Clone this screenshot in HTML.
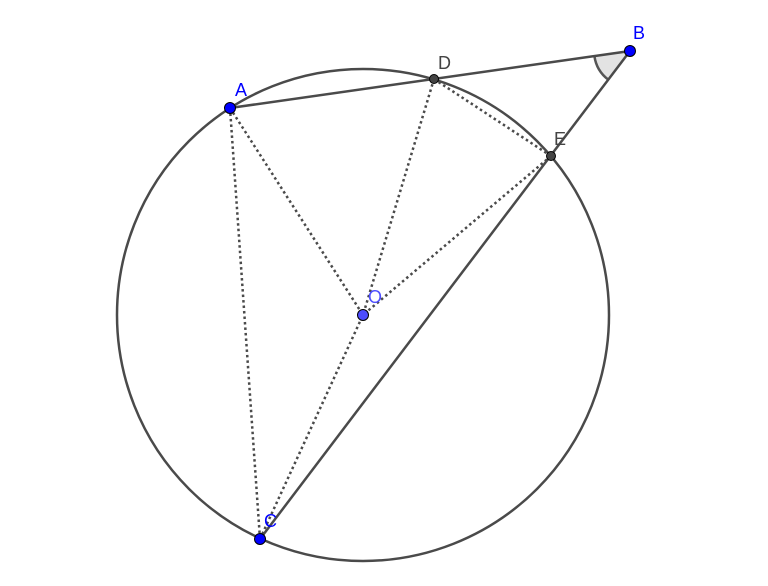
<!DOCTYPE html>
<html><head><style>html,body{margin:0;padding:0;background:#fff}svg{display:block}text{font-family:"Liberation Sans",sans-serif;font-size:18px}</style></head><body>
<svg width="768" height="586" viewBox="0 0 768 586">
<path d="M630,51 L594.4,56.1 A36,36 0 0 0 608.4,79.8 Z" fill="#e3e3e3" stroke="none"/>
<path d="M594.4,56.1 A36,36 0 0 0 608.4,79.8" fill="none" stroke="#555" stroke-width="2.5"/>
<circle cx="363" cy="315" r="246" fill="none" stroke="#4a4a4a" stroke-width="2.5"/>
<g stroke="#4a4a4a" stroke-width="2.5" stroke-dasharray="2.5,3" fill="none">
<line x1="230" y1="108" x2="363" y2="315"/>
<line x1="434" y1="79" x2="363" y2="315"/>
<line x1="551" y1="156" x2="363" y2="315"/>
<line x1="260" y1="539" x2="363" y2="315"/>
<line x1="230" y1="108" x2="260" y2="539"/>
<line x1="434" y1="79" x2="551" y2="156"/>
</g>
<g stroke="#4a4a4a" stroke-width="2.5">
<line x1="230" y1="108" x2="630" y2="51"/>
<line x1="260" y1="539" x2="630" y2="51"/>
</g>
<g stroke="#000" stroke-width="1">
<circle cx="230" cy="108" r="5.5" fill="#0000ff"/>
<circle cx="630" cy="51" r="5.5" fill="#0000ff"/>
<circle cx="260" cy="539" r="5.5" fill="#0000ff"/>
<circle cx="363" cy="315" r="5.5" fill="#4d4dff"/>
<circle cx="434" cy="79" r="4.5" fill="#444"/>
<circle cx="551" cy="156" r="4.5" fill="#444"/>
</g>
<text x="235" y="96" fill="#0000ff">A</text>
<text x="633" y="39" fill="#0000ff">B</text>
<text x="264" y="527" fill="#0000ff">C</text>
<text x="368" y="303" fill="#4d4dff">O</text>
<text x="438" y="69" fill="#444">D</text>
<text x="554" y="145" fill="#444">E</text>
</svg>
</body></html>
